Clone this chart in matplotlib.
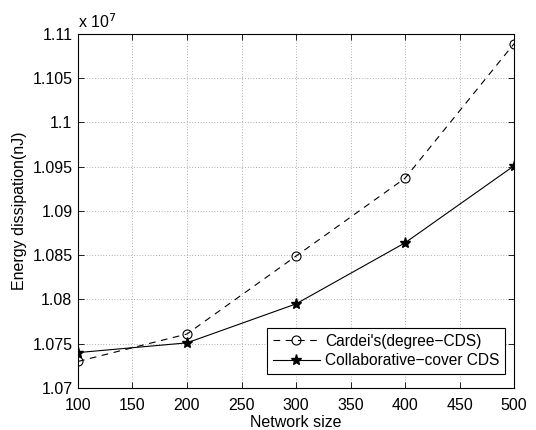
import matplotlib
matplotlib.use("Agg")
import matplotlib.pyplot as plt
import numpy as np

plt.rcParams['font.family'] = ['Liberation Sans', 'DejaVu Sans']

network_size = [100, 200, 300, 400, 500]
cardei = [1.0730e7, 1.0761e7, 1.0849e7, 1.0937e7, 1.1089e7]
collab = [1.0740e7, 1.0751e7, 1.0795e7, 1.0864e7, 1.0951e7]
scale = 1e7

fig = plt.figure(figsize=(5.36, 4.30), dpi=100)
ax = fig.add_axes([0.1455, 0.0977, 0.8135, 0.8233])

ax.plot(network_size, np.array(cardei) / scale, linestyle=(0, (6, 5)), color='black',
        linewidth=0.8, marker='o', markersize=6.5, markerfacecolor='none',
        markeredgewidth=0.8, label="Cardei's(degree\u2212CDS)")
ax.plot(network_size, np.array(collab) / scale, linestyle='-', color='black',
        linewidth=0.8, marker='*', markersize=8, markerfacecolor='black',
        label="Collaborative\u2212cover CDS")

ax.set_xlim(100, 500)
ax.set_ylim(1.07, 1.11)
ax.set_xticks(np.arange(100, 501, 50))
yt = np.arange(1.07, 1.1101, 0.005)
ax.set_yticks(yt)
ax.set_yticklabels(['1.07', '1.075', '1.08', '1.085', '1.09', '1.095', '1.1', '1.105', '1.11'])
ax.tick_params(direction='in', labelsize=11.5, top=True, right=True, length=4, width=0.6)
ax.tick_params(axis='x', pad=7)
ax.tick_params(axis='y', pad=4)
ax.grid(True, linestyle=(0, (1, 3)), color='black', linewidth=0.5, alpha=0.6)
for s in ax.spines.values():
    s.set_linewidth(0.8)

ax.set_xlabel('Network size', fontsize=11.5, labelpad=2)
ax.set_ylabel('Energy dissipation(nJ)', fontsize=11.5, labelpad=4)
ax.text(0.0, 1.008, r'x 10$^{7}$', transform=ax.transAxes, fontsize=11.5, ha='left', va='bottom')

leg = ax.legend(loc='lower right', bbox_to_anchor=(0.979, 0.04), fontsize=11.2,
                frameon=True, fancybox=False, edgecolor='black', framealpha=1,
                borderpad=0.35, labelspacing=0.3, handlelength=3.0, handletextpad=0.35,
                borderaxespad=0)
leg.get_frame().set_linewidth(0.8)

fig.savefig('out.png', dpi=100)
